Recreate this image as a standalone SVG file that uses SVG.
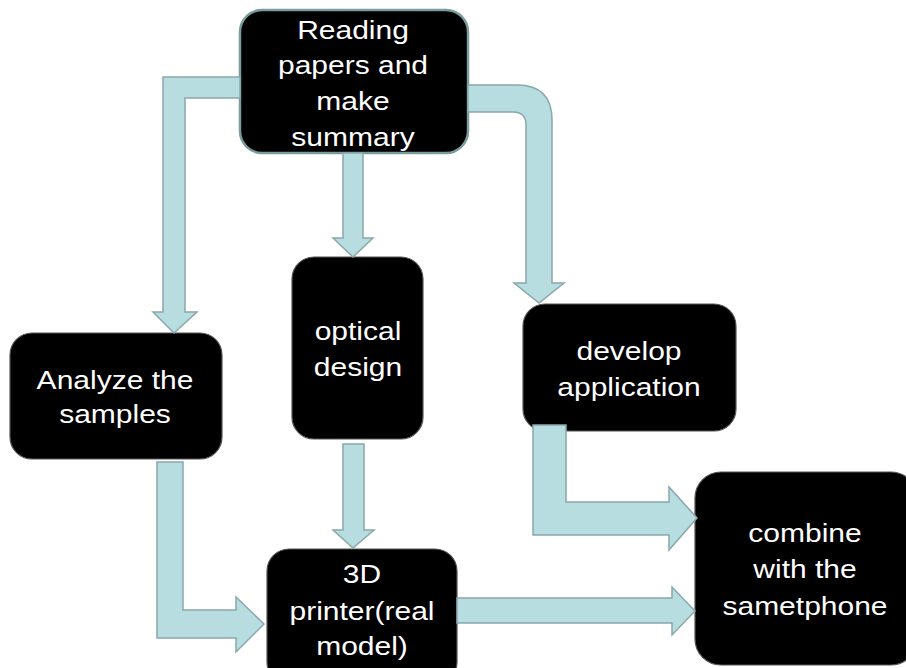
<svg xmlns="http://www.w3.org/2000/svg" width="906" height="668" viewBox="0 0 906 668">
<style>
.node{fill:#000;stroke:#555;stroke-width:1.2}
.node.top{stroke:#7a9c9e;stroke-width:2.5}
.arrow{fill:#b7dde0;stroke:#88a8aa;stroke-width:1.5;stroke-linejoin:miter}
.lbl{fill:#fff;font-family:"Liberation Sans",Arial,sans-serif;font-size:25px;text-anchor:middle}
</style>
<rect width="906" height="668" fill="#fff"/>
<g id="nodes">
<g id="n-reading">
<rect class="node top" x="240" y="10" width="228" height="143" rx="22"/>
<text class="lbl" transform="translate(353,0) scale(1.2,1)"><tspan x="0" y="39">Reading</tspan><tspan x="0" y="74">papers and</tspan><tspan x="0" y="110">make</tspan><tspan x="0" y="146">summary</tspan></text>
</g>
<g id="n-optical">
<rect class="node" x="292" y="257" width="131" height="182" rx="22"/>
<text class="lbl" transform="translate(358,0) scale(1.2,1)"><tspan x="0" y="340">optical</tspan><tspan x="0" y="376">design</tspan></text>
</g>
<g id="n-analyze">
<rect class="node" x="10" y="333" width="212" height="126" rx="22"/>
<text class="lbl" transform="translate(115,0) scale(1.2,1)"><tspan x="0" y="389">Analyze the</tspan><tspan x="0" y="423">samples</tspan></text>
</g>
<g id="n-develop">
<rect class="node" x="523" y="304" width="213" height="127" rx="22"/>
<text class="lbl" transform="translate(629,0) scale(1.2,1)"><tspan x="0" y="360">develop</tspan><tspan x="0" y="396">application</tspan></text>
</g>
<g id="n-printer">
<rect class="node" x="267" y="549" width="190" height="135" rx="22"/>
<text class="lbl" transform="translate(362,0) scale(1.2,1)"><tspan x="0" y="583">3D</tspan><tspan x="0" y="620">printer(real</tspan><tspan x="0" y="655">model)</tspan></text>
</g>
<g id="n-combine">
<rect class="node" x="695" y="472" width="222" height="193" rx="26"/>
<text class="lbl" transform="translate(805,0) scale(1.2,1)"><tspan x="0" y="542">combine</tspan><tspan x="0" y="578">with the</tspan><tspan x="0" y="615">sametphone</tspan></text>
</g>
</g>
<g id="connectors">
<path class="arrow" d="M240,77 L163,77 L163,312 L153,312 L174,333 L197,312 L185,312 L185,98 L240,98 Z"/>
<path class="arrow" d="M343,153 L363,153 L363,238 L373,238 L353,257 L333,238 L343,238 Z"/>
<path class="arrow" d="M468,85 L517,85 Q552,85 552,120 L552,283 L564,283 L539,303 L514,283 L526,283 L526,125 Q526,112 513,112 L468,112 Z"/>
<path class="arrow" d="M343,444 L364,444 L364,530 L374,530 L353,548 L333,530 L343,530 Z"/>
<path class="arrow" d="M157,462 L183,462 L183,610 L236,610 L236,597 L264,624 L236,652 L236,638 L157,638 Z"/>
<path class="arrow" d="M533,425 L566,425 L566,502 L669,502 L669,487 L697,518 L669,550 L669,535 L533,535 Z"/>
<path class="arrow" d="M457,598 L672,598 L672,587 L695,611 L672,635 L672,623 L457,623 Z"/>
</g>
</svg>
